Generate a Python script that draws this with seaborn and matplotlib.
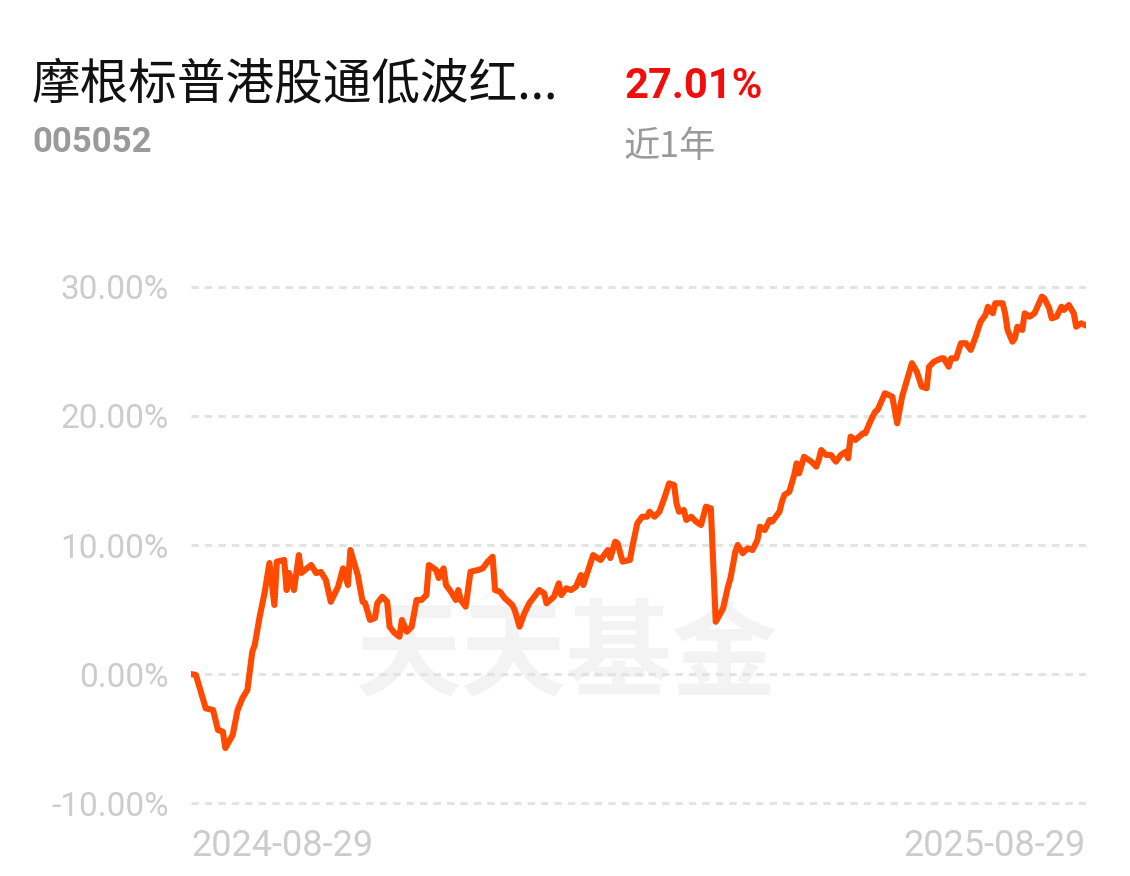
import pandas as pd
import numpy as np
import seaborn as sns
import matplotlib.pyplot as plt

# -------------------------------
# 1. Data
# -------------------------------
fund_name = "摩根标普港股通低波红..."
fund_code = "005052"
period_return = "27.01%"
period_label = "近1年"
start_label = "2024-08-29"
end_label = "2025-08-29"

# days since 2024-08-29
days = [0, 2, 6, 9, 11, 13, 14, 17, 19, 21, 23, 25, 26, 28, 30, 32, 34, 35, 38, 39,
        40, 42, 44, 45, 49, 51, 53, 55, 57, 60, 62, 64, 65, 68, 70, 71, 73, 75, 76, 78,
        80, 81, 83, 85, 86, 88, 90, 92, 94, 96, 97, 100, 101, 103, 104, 106, 108, 109, 110, 112,
        114, 117, 119, 121, 123, 124, 126, 128, 131, 132, 134, 136, 138, 140, 142, 144, 145, 148, 150, 151,
        153, 155, 157, 159, 160, 162, 164, 167, 170, 171, 173, 174, 176, 179, 180, 182, 184, 186, 187, 189,
        191, 193, 195, 197, 198, 199, 201, 202, 204, 206, 208, 210, 212, 214, 217, 219, 220, 222, 223, 225,
        227, 229, 231, 232, 234, 236, 237, 240, 241, 242, 244, 246, 247, 248, 250, 253, 255, 256, 257, 259,
        261, 263, 265, 267, 268, 269, 271, 274, 275, 277, 279, 280, 283, 286, 288, 290, 294, 296, 298, 300,
        301, 303, 306, 307, 309, 310, 312, 314, 316, 318, 320, 322, 324, 325, 327, 328, 331, 332, 333, 335,
        336, 337, 339, 340, 342, 344, 347, 348, 350, 351, 353, 355, 356, 358, 360, 361, 363, 365]

# cumulative return, %
returns = [0.00, -0.08, -2.66, -2.79, -4.34, -4.47, -5.74, -4.73, -2.79, -1.86, -1.24, 1.73, 2.25, 4.44, 6.28, 8.60, 5.35, 8.71, 8.84, 6.51,
           7.83, 6.51, 9.22, 7.83, 8.45, 7.83, 7.91, 7.29, 5.60, 6.77, 8.19, 6.90, 9.61, 7.67, 5.60, 5.50, 4.19, 4.34, 5.50, 5.99,
           5.60, 3.67, 3.18, 2.89, 4.19, 3.28, 3.67, 5.74, 5.74, 6.12, 8.45, 8.06, 7.44, 8.19, 6.90, 6.38, 5.74, 6.51, 5.74, 5.22,
           7.93, 8.06, 8.19, 8.71, 9.09, 6.51, 6.38, 5.87, 5.35, 4.96, 3.67, 4.73, 5.50, 5.99, 6.51, 6.26, 5.48, 5.99, 7.03, 6.12,
           6.64, 6.51, 6.77, 7.67, 6.90, 8.06, 9.22, 8.84, 9.61, 8.99, 10.26, 10.13, 8.71, 8.84, 9.87, 11.68, 12.19, 12.19, 12.58, 12.19,
           12.58, 13.62, 14.78, 14.65, 13.23, 12.58, 12.71, 11.94, 12.19, 11.81, 11.55, 12.97, 12.84, 4.05, 5.09, 6.77, 7.42, 9.48, 10.00, 9.36,
           9.74, 9.61, 10.39, 11.42, 11.16, 11.94, 11.81, 12.58, 13.36, 13.88, 14.13, 15.43, 16.33, 15.56, 16.84, 16.46, 16.07, 16.59, 17.36, 16.98,
           16.98, 16.46, 16.98, 17.23, 16.72, 18.40, 18.14, 18.66, 18.66, 19.56, 20.33, 20.47, 21.76, 21.50, 19.43, 21.50, 24.09, 23.43, 22.27, 22.15,
           23.82, 24.21, 24.47, 24.47, 23.82, 24.47, 24.47, 25.64, 25.64, 25.12, 26.15, 27.31, 27.83, 28.47, 27.96, 28.74, 28.74, 27.96, 26.67, 25.76,
           26.02, 26.92, 26.67, 27.96, 27.70, 27.96, 29.25, 29.12, 28.35, 27.57, 27.70, 28.47, 28.22, 28.60, 27.96, 26.92, 27.19, 27.01]

y_ticks = [-10, 0, 10, 20, 30]

df = pd.DataFrame({"day": days, "ret": returns})

# -------------------------------
# 2. Style
# -------------------------------
sns.set_style("white")
plt.rcParams["font.family"] = ["Roboto", "Noto Sans CJK SC", "DejaVu Sans"]

LINE = "#ff4a00"
GRID = "#e3e3e3"
TICK = "#cccccc"
GREY = "#9a9a9a"

fig = plt.figure(figsize=(11.3, 8.76), dpi=100)
ax = fig.add_axes([191 / 1130, 1 - 805.6 / 876, 895 / 1130, (805.6 - 284.4) / 876])

# watermark
ax.text(0.42, 0.285, "天天基金", transform=ax.transAxes, ha="center", va="center",
        fontsize=76, fontweight="bold", color="#f3f3f3", family=["Noto Sans CJK SC"], zorder=0)

for v in y_ticks:
    ax.axhline(v, color=GRID, lw=2.2, dashes=(2.4, 2.0), zorder=1)

sns.lineplot(data=df, x="day", y="ret", color=LINE, lw=4.4, ax=ax, zorder=3,
             solid_joinstyle="round", solid_capstyle="round")

ax.set_xlim(0, 365)
ax.set_ylim(-10.2, 30.2)
sns.despine(ax=ax, left=True, bottom=True)
ax.set_xlabel("")
ax.set_ylabel("")

ax.set_yticks(y_ticks)
ax.set_yticklabels([f"{v:.2f}%" for v in y_ticks], fontsize=24, color=TICK)
ax.set_xticks([0, 365])
ax.set_xticklabels([start_label, end_label], fontsize=26, color=TICK)
ax.get_xticklabels()[0].set_ha("left")
ax.get_xticklabels()[1].set_ha("right")
ax.tick_params(axis="y", length=0, pad=16)
ax.tick_params(axis="x", length=0, pad=16)

# -------------------------------
# 3. Header texts
# -------------------------------
fig.text(32 / 1130, 1 - 85 / 876, fund_name, ha="left", va="center", fontsize=35,
         color="#111111", family=["Noto Sans CJK SC"])
fig.text(32 / 1130, 1 - 143 / 876, fund_code, ha="left", va="center", fontsize=25,
         fontweight="bold", color=GREY, family=["Roboto"])
fig.text(624 / 1130, 1 - 86 / 876, period_return, ha="left", va="center", fontsize=30,
         fontweight="bold", color="#f20d0d", family=["Roboto"])
fig.text(624 / 1130, 1 - 147 / 876, period_label, ha="left", va="center", fontsize=26,
         color=GREY, family=["Noto Sans CJK SC"])

plt.savefig("out.png", dpi=100, facecolor="white")
